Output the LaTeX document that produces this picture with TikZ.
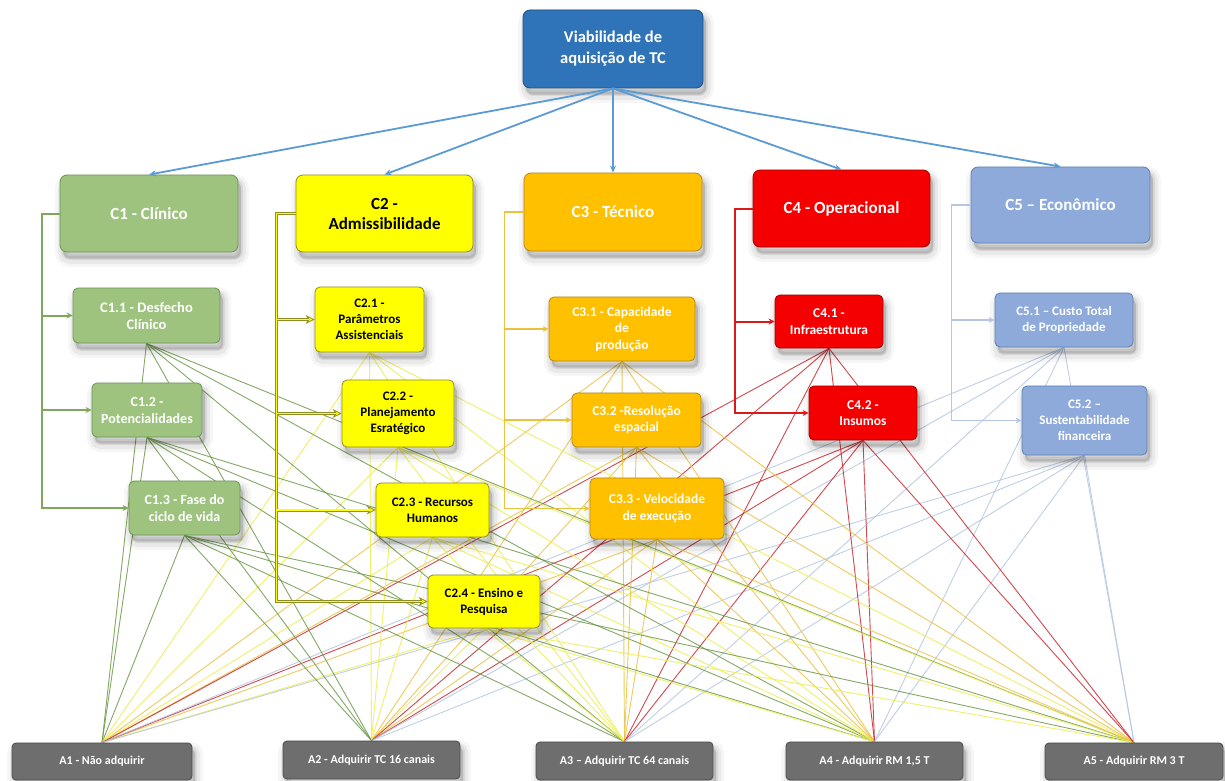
\documentclass[tikz,border=0pt]{standalone}
\usepackage{fontspec}
\setmainfont{Carlito}
\usetikzlibrary{arrows.meta,shadows}
\pgfdeclarelayer{background}
\pgfsetlayers{background,main}

\definecolor{topblue}{HTML}{2F74B8}
\definecolor{topedge}{HTML}{1F4E80}
\definecolor{linkblue}{HTML}{5B9BD5}
\definecolor{clin}{HTML}{9DC37E}
\definecolor{clinedge}{HTML}{6F9455}
\definecolor{clinline}{HTML}{6F9A4A}
\definecolor{clinbar}{HTML}{7FA85A}
\definecolor{adm}{HTML}{FFFF00}
\definecolor{admedge}{HTML}{8F8F20}
\definecolor{admline}{HTML}{EEEE50}
\definecolor{tec}{HTML}{FFC000}
\definecolor{tecedge}{HTML}{B28A1E}
\definecolor{tecline}{HTML}{EBC240}
\definecolor{ope}{HTML}{F40000}
\definecolor{opeedge}{HTML}{A00000}
\definecolor{opeline}{HTML}{C9282F}
\definecolor{opebar}{HTML}{D81A1A}
\definecolor{eco}{HTML}{8EAADB}
\definecolor{ecoedge}{HTML}{5F7FB5}
\definecolor{ecoline}{HTML}{B5C6E2}
\definecolor{altgray}{HTML}{6E6E6E}
\definecolor{altedge}{HTML}{4B4B4B}

\tikzset{
  sz/.style 2 args={minimum width=#1pt, minimum height=#2pt},
  softshade/.style={
    general shadow={shadow xshift=3pt, shadow yshift=-7pt, fill=black, draw=black,
      line width=16pt, opacity=0.035},
    general shadow={shadow xshift=3pt, shadow yshift=-7pt, fill=black, draw=black,
      line width=10pt, opacity=0.05},
    general shadow={shadow xshift=3pt, shadow yshift=-6pt, fill=black, draw=black,
      line width=4pt, opacity=0.07}},
  box/.style={rounded corners=7pt, draw, line width=0.8pt, align=center,
    inner sep=1pt, softshade},
  crit/.style={box, font=\fontsize{17}{20}\selectfont\bfseries},
  subc/.style={box, rounded corners=5pt, font=\fontsize{13.5}{16.5}\selectfont\bfseries},
  altbox/.style={box, rounded corners=4pt, fill=altgray, draw=altedge, text=white,
    font=\fontsize{12}{14}\selectfont\bfseries},
  g1/.style={fill=clin, draw=clinedge, text=white},
  g2/.style={fill=adm, draw=admedge, text=black},
  g3/.style={fill=tec, draw=tecedge, text=white},
  g4/.style={fill=ope, draw=opeedge, text=white},
  g5/.style={fill=eco, draw=ecoedge, text=white},
  toplink/.style={draw=linkblue, line width=1.8pt, -{Stealth[length=7pt,width=6pt]}},
  tip/.style={-{Stealth[length=6pt,width=6pt]}},
  bar1/.style={draw=clinbar, line width=2pt, tip},
  bar2out/.style={draw=admedge, line width=3pt,
    -{Stealth[length=9pt,width=9pt,fill=adm,line width=0.8pt]}},
  bar2in/.style={draw=adm, line width=1.4pt, shorten >=6pt},
  bar3/.style={draw=tecline, line width=1.6pt, tip},
  bar4/.style={draw=opebar, line width=2pt, tip},
  bar5/.style={draw=ecoline, line width=1.6pt, tip},
  w1/.style={draw=clinline, line width=0.9pt, opacity=0.85},
  w2/.style={draw=admline, line width=0.9pt, opacity=0.85},
  w3/.style={draw=tecline, line width=0.9pt, opacity=0.85},
  w4/.style={draw=opeline, line width=0.9pt, opacity=0.85},
  w5/.style={draw=ecoline, line width=0.9pt, opacity=0.85},
}

\begin{document}
\begin{tikzpicture}[x=1pt, y=-1pt]
\begin{pgfonlayer}{background}
  \fill[white] (0,0) rectangle (1225,781);
\end{pgfonlayer}
\useasboundingbox (0,0) rectangle (1225,781);

% goal
\node[box, sz={180}{78}, fill=topblue, draw=topedge, text=white,
  font=\fontsize{16.5}{21}\selectfont\bfseries] (Top) at (613,49)
  {Viabilidade de\\aquisição de TC};

% criteria
\node[crit, g1, sz={178}{77}] (C1) at (149,213.5) {C1 - Clínico};
\node[crit, g2, sz={177}{77}] (C2) at (384.5,213.5) {C2 -\\Admissibilidade};
\node[crit, g3, sz={178}{78}] (C3) at (613,212) {C3 - Técnico};
\node[crit, g4, sz={177}{77}] (C4) at (841.5,208.5) {C4 - Operacional};
\node[crit, g5, sz={179}{76}] (C5) at (1060.5,205) {C5 – Econômico};

% sub-criteria
\node[subc, g1, sz={147}{55}, font=\fontsize{14.5}{17}\selectfont\bfseries] (C11) at (146.5,315.5) {C1.1 - Desfecho\\Clínico};
\node[subc, g1, sz={110}{54}, font=\fontsize{14}{17}\selectfont\bfseries] (C12) at (147,410) {C1.2 -\\Potencialidades};
\node[subc, g1, sz={111}{54}, font=\fontsize{14}{17}\selectfont\bfseries] (C13) at (184.5,508) {C1.3 - Fase do\\ciclo de vida};

\node[subc, g2, sz={109}{65}, font=\fontsize{13}{16}\selectfont\bfseries] (C21) at (369.5,319.5) {C2.1 -\\Parâmetros\\Assistenciais};
\node[subc, g2, sz={112}{67}, font=\fontsize{13}{16}\selectfont\bfseries] (C22) at (398,413.5) {C2.2 -\\Planejamento\\Esratégico};
\node[subc, g2, sz={113}{54}, font=\fontsize{13}{16}\selectfont\bfseries] (C23) at (432.5,510) {C2.3 - Recursos\\Humanos};
\node[subc, g2, sz={112}{53}, font=\fontsize{13}{16}\selectfont\bfseries] (C24) at (484,601.5) {C2.4 - Ensino e\\Pesquisa};

\node[subc, g3, sz={146}{64}] (C31) at (622,329) {C3.1 - Capacidade\\de\\produção};
\node[subc, g3, sz={129}{54}] (C32) at (636.5,420) {C3.2 -Resolução\\espacial};
\node[subc, g3, sz={134}{61}] (C33) at (657,508.5) {C3.3 - Velocidade\\de execução};

\node[subc, g4, sz={108}{53}] (C41) at (829,321.5) {C4.1 -\\Infraestrutura};
\node[subc, g4, sz={108}{54}] (C42) at (863,413) {C4.2 -\\Insumos};

\node[subc, g5, sz={138}{54}, font=\fontsize{13}{16}\selectfont\bfseries] (C51) at (1064,320) {C5.1 – Custo Total\\de Propriedade};
\node[subc, g5, sz={125}{69}, font=\fontsize{13}{16}\selectfont\bfseries] (C52) at (1084.5,420.5) {C5.2 –\\Sustentabilidade\\financeira};

% alternatives
\node[altbox, sz={180}{37}] (A1) at (102,761.5) {A1 - Não adquirir};
\node[altbox, sz={177}{38}] (A2) at (371.5,760) {A2 - Adquirir TC 16 canais};
\node[altbox, sz={177}{38}] (A3) at (624.5,761) {A3 – Adquirir TC 64 canais};
\node[altbox, sz={177}{38}] (A4) at (874.5,761) {A4 - Adquirir RM 1,5 T};
\node[altbox, sz={178}{37}] (A5) at (1134,761.5) {A5 - Adquirir RM 3 T};

% every sub-criterion feeds every alternative
\begin{pgfonlayer}{background}
  \foreach \a in {1,...,5} {
    \foreach \s in {C11,C12,C13} \draw[w1] (\s.south) -- (A\a.north);
    \foreach \s in {C21,C22,C23,C24} \draw[w2] (\s.south) -- (A\a.north);
    \foreach \s in {C31,C32,C33} \draw[w3] (\s.south) -- (A\a.north);
    \foreach \s in {C41,C42} \draw[w4] (\s.south) -- (A\a.north);
    \foreach \s in {C51,C52} \draw[w5] (\s.south) -- (A\a.north);
  }
\end{pgfonlayer}

% goal to criteria
\foreach \c in {1,...,5} \draw[toplink] (Top.south) -- (C\c.north);

% criterion brackets
\foreach \s in {C11,C12,C13} \draw[bar1] (C1.west) -- ++(-18,0) |- (\s.west);
\foreach \s in {C21,C22,C23,C24} \draw[bar2out] (C2.west) -- ++(-19,0) |- (\s.west);
\foreach \s in {C21,C22,C23,C24} \draw[bar2in] (C2.west) -- ++(-19,0) |- (\s.west);
\foreach \s in {C31,C32,C33} \draw[bar3] (C3.west) -- ++(-19,0) |- (\s.west);
\foreach \s in {C41,C42} \draw[bar4] (C4.west) -- ++(-18,0) |- (\s.west);
\foreach \s in {C51,C52} \draw[bar5] (C5.west) -- ++(-19,0) |- (\s.west);
\end{tikzpicture}
\end{document}
